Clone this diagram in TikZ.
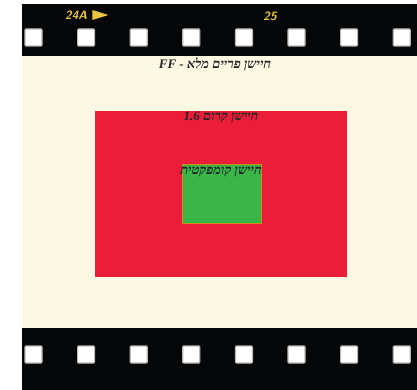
\documentclass[tikz,border=0pt]{standalone}
\usepackage{fontspec}
\newfontfamily\hebfont[Script=Hebrew]{Liberation Serif}
\TeXXeTstate=1
\usetikzlibrary{positioning}

\definecolor{filmblack}{HTML}{050708}
\definecolor{cream}{HTML}{FDF8E2}
\definecolor{cropred}{HTML}{EC1D38}
\definecolor{compgreen}{HTML}{3AB54A}
\definecolor{gold}{HTML}{E9C53C}

\begin{document}
\begin{tikzpicture}[x=1pt, y=-1pt,
  hole/.style={fill=white, draw=gray!55, line width=1.2pt, rounded corners=1pt},
  lbl/.style={font=\hebfont\bfseries\itshape\fontsize{13}{15}\selectfont, text=black!85, inner sep=1pt},
  num/.style={font=\sffamily\bfseries\itshape\fontsize{12}{14}\selectfont, text=gold, inner sep=0pt}]
  \useasboundingbox (0,0) rectangle (417,390);
  % film strip
  \fill[cream] (22,56) rectangle (417,328);
  \fill[filmblack] (22,4) rectangle (417,56);
  \fill[filmblack] (22,328) rectangle (417,390);
  \foreach \i in {0,...,7} {
    \path[hole] (25+52.6*\i,29) rectangle +(17,17);
    \path[hole] (25+52.6*\i,346) rectangle +(17,17);
  }
  \node[num, anchor=west] (frA) at (65,15) {24A};
  \fill[gold] (frA.east) ++(5,-5) coordinate (tipA) -- ++(16,5) -- ++(-16,5) -- cycle;
  \node[num] (frB) at (270,16) {25};
  % sensors
  \fill[cropred] (95,111) rectangle (347,277);
  \path[fill=compgreen, draw=orange!70!compgreen, line width=0.6pt] (182,164) rectangle (261,223);
  \node[lbl] (ff) at (215,64) {\beginR חיישן פריים מלא - \beginL FF\endL\endR};
  \node[lbl] (crop) at (221,118) {\beginR חיישן קרום \beginL 1.6\endL\endR};
  \node[lbl] (comp) at (221,172) {\beginR חיישן קומפקטית\endR};
\end{tikzpicture}
\end{document}
